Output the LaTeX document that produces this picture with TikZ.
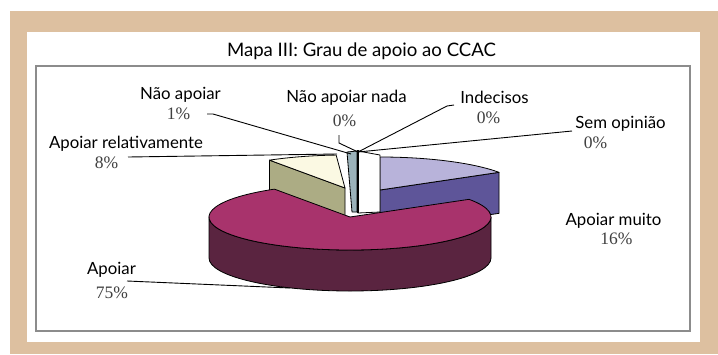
\documentclass[tikz,border=0pt]{standalone}
\usepackage{fontspec}
\setmainfont{Lato}
\newfontfamily\pctfont{Liberation Serif}
\definecolor{framebg}{HTML}{DDC0A0}
\definecolor{boxgray}{HTML}{8C8C8C}
\definecolor{aptop}{HTML}{A8336C}
\definecolor{apside}{HTML}{5A2440}
\definecolor{muitotop}{HTML}{B8B3DA}
\definecolor{muitoside}{HTML}{5E5599}
\definecolor{reltop}{HTML}{FBF9E3}
\definecolor{relside}{HTML}{ACAC84}
\definecolor{naogray}{HTML}{9BB2BA}
\definecolor{pctgray}{HTML}{404040}
\begin{document}
\begin{tikzpicture}[x=1pt,y=1pt]
\tikzstyle{every node}=[inner sep=0pt,anchor=base];
\tikzstyle{ttl}=[font=\fontsize{18.6}{20}\selectfont];
\tikzstyle{lbl}=[font=\fontsize{16.8}{18}\selectfont];
\tikzstyle{pct}=[font=\pctfont\fontsize{17.5}{18}\selectfont,text=pctgray];
\tikzstyle{leader}=[line width=0.9pt];
\tikzstyle{edge}=[line width=0.8pt,line join=round];
\useasboundingbox (0,0) rectangle (718,-354);
\fill[white] (0,0) rectangle (718,-354);
\fill[framebg] (10,-11) rectangle (718,-354);
\fill[white] (27,-32) rectangle (700,-342);
\draw[line width=1.2pt,boxgray] (36,-66) rectangle (690,-331);
\path (361.5,-56) node[ttl] (title) {Mapa III: Grau de apoio ao CCAC};
\coordinate (muito) at (380,-190);
\coordinate (relat) at (345,-188);
\coordinate (apoiar) at (350,-217);
\draw[edge,fill=muitoside] (muito) -- ++(32.4:141pt and 33pt) -- ++(0,-41) -- ++(212.4:141pt and 33pt) -- cycle;
\draw[edge,fill=muitotop] (muito) -- ++(32.4:141pt and 33pt) arc (32.4:90:141pt and 33pt) -- cycle;
\draw[edge,fill=relside] (relat) -- ++(122.4:141pt and 33pt) -- ++(0,-41) -- ++(302.4:141pt and 33pt) -- cycle;
\draw[edge,fill=reltop] (relat) -- ++(93.6:141pt and 33pt) arc (93.6:122.4:141pt and 33pt) -- cycle;
\draw[edge,fill=naogray] (347,-152) -- (357,-151) -- (357,-212) -- (352,-212) -- cycle;
\draw[edge,fill=white] (358,-151) -- (380,-155) -- (380,-212) -- (358,-213) -- cycle;
\draw[line width=1.6pt] (358,-150) -- (358,-213);
\draw[edge,fill=apside] (apoiar) ++(180:141pt and 33pt) -- ++(0,-41) arc (180:360:141pt and 33pt) -- ++(0,41) arc (360:180:141pt and 33pt) -- cycle;
\draw[edge,fill=aptop] (apoiar) -- ++(122.4:141pt and 33pt) arc (122.4:392.4:141pt and 33pt) -- cycle;
\path (180.5,-99) node[lbl] (naoap) {Não apoiar};
\path (178.5,-119) node[pct] (naoapP) {1\%};
\path (126,-148) node[lbl] (relap) {Apoiar relativamente};
\path (106.5,-168) node[pct] (relapP) {8\%};
\path (346.5,-102) node[lbl] (nada) {Não apoiar nada};
\path (344.5,-126) node[pct] (nadaP) {0\%};
\path (494.5,-103) node[lbl] (indec) {Indecisos};
\path (488.5,-123) node[pct] (indecP) {0\%};
\path (620.5,-128) node[lbl] (semop) {Sem opinião};
\path (595.5,-148) node[pct] (semopP) {0\%};
\path (111.5,-274) node[lbl] (apo) {Apoiar};
\path (112,-298) node[pct] (apoP) {75\%};
\path (613.5,-225) node[lbl] (muitoL) {Apoiar muito};
\path (616.5,-244) node[pct] (muitoP) {16\%};
\coordinate (hub) at (358,-152);
\coordinate (k1) at (207,-114);
\coordinate (e1) at (351,-154);
\coordinate (k2) at (128,-157);
\coordinate (e2) at (337,-154);
\coordinate (k3) at (339,-135);
\coordinate (k4) at (454,-105);
\coordinate (k5) at (572,-131);
\coordinate (k6) at (127,-281);
\coordinate (e6) at (290,-288);
\draw[leader] (k1) -- ++(6,0) -- (e1);
\draw[leader] (k2) -- (e2);
\draw[leader] (k3) -- ++(0,-8) -- (hub);
\draw[leader] (k4) -- ++(-7,-1) -- (hub);
\draw[leader] (k5) -- (hub);
\draw[leader] (k6) -- (e6);
\end{tikzpicture}
\end{document}
